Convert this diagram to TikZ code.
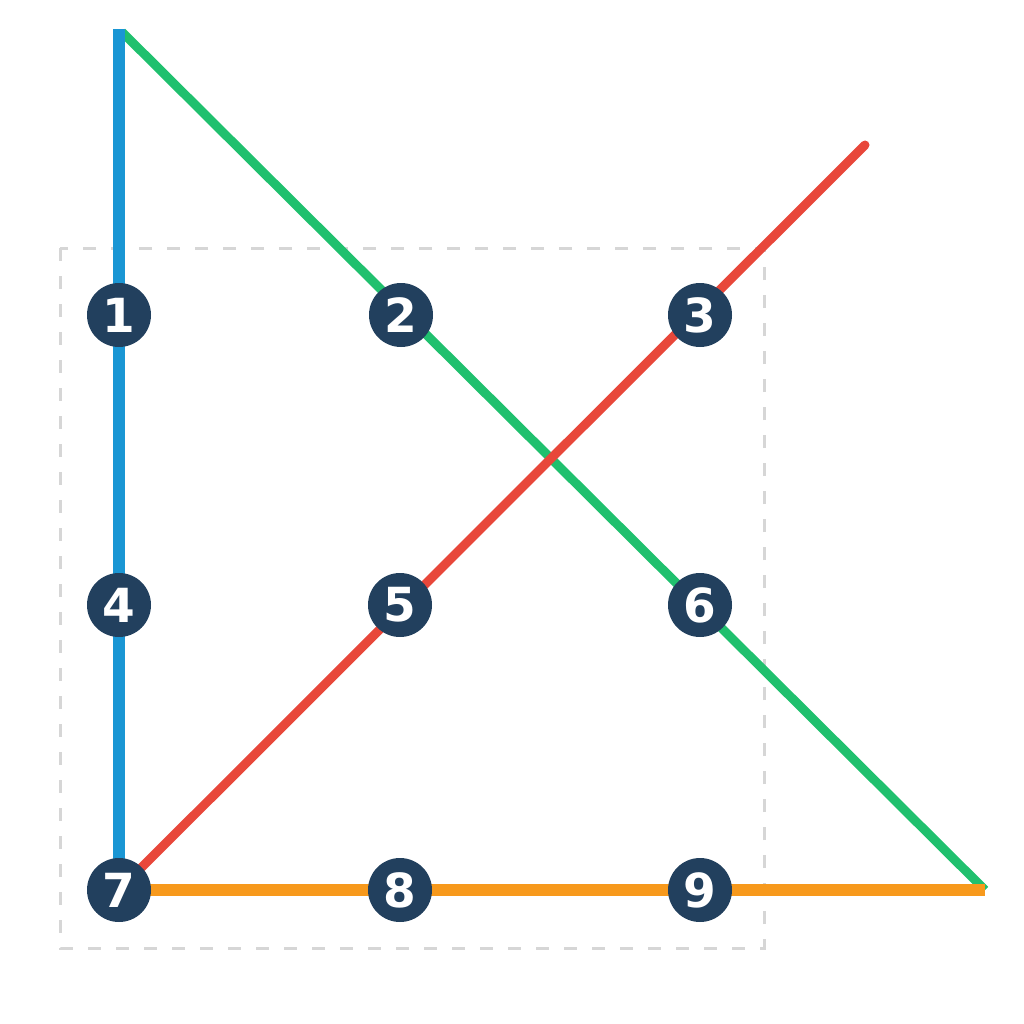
\documentclass[tikz,border=0pt]{standalone}
\usepackage{fontspec}
\setmainfont{DejaVu Sans}
\definecolor{cblue}{HTML}{1A96D4}
\definecolor{cgreen}{HTML}{20C06E}
\definecolor{cred}{HTML}{E8473A}
\definecolor{corange}{HTML}{F7991C}
\definecolor{cdot}{HTML}{22405E}
\definecolor{cdash}{HTML}{D6D6D6}
\begin{document}
\begin{tikzpicture}[x=1pt,y=-1pt,
  dot/.style={circle,fill=cdot,minimum size=64pt,inner sep=0pt,text=white,font=\fontsize{47}{47}\selectfont\bfseries},
  frame/.style={draw=cdash,line width=3pt,dash pattern=on 13pt off 15pt}]
\useasboundingbox (0,0) rectangle (1024,1024);
\coordinate (top) at (119,29);
\coordinate (gtop) at (122,32);
\coordinate (rend) at (865,145);
\coordinate (brc) at (985,890);
\coordinate (d7) at (119,890);
\draw[frame] (60,248) rectangle (764,948);
\draw[cgreen,line width=9pt] (gtop) -- (brc);
\draw[cred,line width=9pt,line cap=round] (d7) -- (rend);
\draw[cblue,line width=12pt] (top) -- (d7);
\draw[corange,line width=12pt] (d7) -- (brc);
\node[dot] (n1) at (119,315) {1};
\node[dot] (n2) at (401,315) {2};
\node[dot] (n3) at (700,315) {3};
\node[dot] (n4) at (119,605) {4};
\node[dot] (n5) at (400,605) {5};
\node[dot] (n6) at (700,605) {6};
\node[dot] (n7) at (119,890) {7};
\node[dot] (n8) at (400,890) {8};
\node[dot] (n9) at (700,890) {9};
\end{tikzpicture}
\end{document}
